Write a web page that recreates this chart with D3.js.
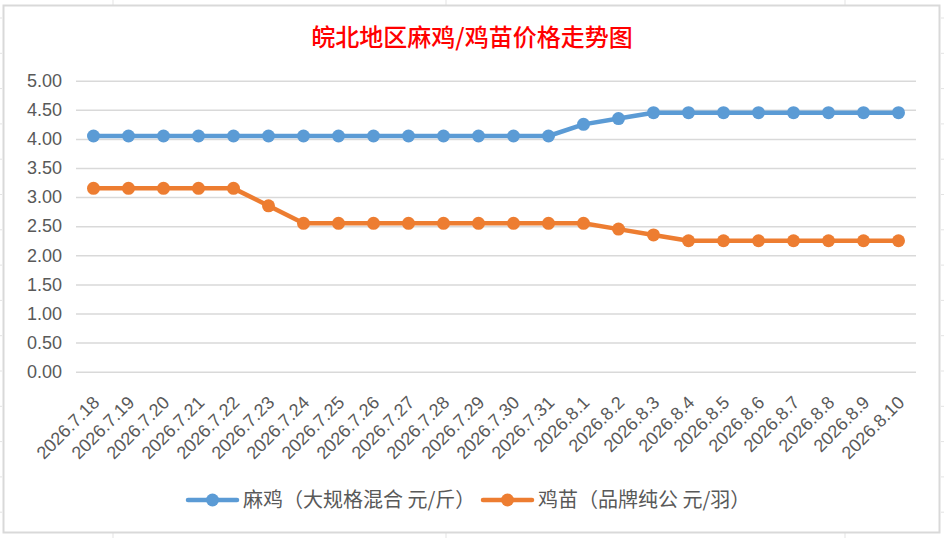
<!DOCTYPE html>
<html>
<head>
<meta charset="utf-8">
<script src="https://cdn.jsdelivr.net/npm/d3@7"></script>
<style>
  html, body { margin: 0; padding: 0; background: #fff; }
  svg { display: block; }
  text { font-family: "Liberation Sans", "Noto Sans CJK SC", sans-serif; }
</style>
</head>
<body>
<div id="chart"></div>
<script>
const categories = [
  '2026.7.18', '2026.7.19', '2026.7.20', '2026.7.21', '2026.7.22', '2026.7.23',
  '2026.7.24', '2026.7.25', '2026.7.26', '2026.7.27', '2026.7.28', '2026.7.29',
  '2026.7.30', '2026.7.31', '2026.8.1', '2026.8.2', '2026.8.3', '2026.8.4',
  '2026.8.5', '2026.8.6', '2026.8.7', '2026.8.8', '2026.8.9', '2026.8.10'
];

// 麻鸡（大规格混合 元/斤）
const majiPrices = [
  4.05, 4.05, 4.05, 4.05, 4.05, 4.05, 4.05, 4.05, 4.05, 4.05, 4.05, 4.05,
  4.05, 4.05, 4.25, 4.35, 4.45, 4.45, 4.45, 4.45, 4.45, 4.45, 4.45, 4.45
];

// 鸡苗（品牌纯公 元/羽）
const jimiaoPrices = [
  3.15, 3.15, 3.15, 3.15, 3.15, 2.85, 2.55, 2.55, 2.55, 2.55, 2.55, 2.55,
  2.55, 2.55, 2.55, 2.45, 2.35, 2.25, 2.25, 2.25, 2.25, 2.25, 2.25, 2.25
];

const yTicks = [0, 0.5, 1, 1.5, 2, 2.5, 3, 3.5, 4, 4.5, 5];

const seriesNames = ['麻鸡（大规格混合 元/斤）', '鸡苗（品牌纯公 元/羽）'];
const seriesColors = ['#5b9bd5', '#ed7d31'];

const width = 944;
const height = 538;
const plot = { left: 76, right: 916, top: 80.7, bottom: 371.7 };

const svg = d3.select('#chart').append('svg')
  .attr('width', width)
  .attr('height', height);

// Excel cell grid peeking out around the chart box
const cellGrid = svg.append('g').attr('stroke', '#e3e3e3').attr('stroke-width', 1);
[113, 446, 845].forEach((gx) => {
  cellGrid.append('line').attr('x1', gx).attr('x2', gx).attr('y1', 0).attr('y2', 5);
  cellGrid.append('line').attr('x1', gx).attr('x2', gx).attr('y1', 533).attr('y2', height);
});
d3.range(18, 533, 35.3).forEach((gy) => {
  cellGrid.append('line').attr('x1', 0).attr('x2', 2).attr('y1', gy).attr('y2', gy);
  cellGrid.append('line').attr('x1', 941).attr('x2', width).attr('y1', gy).attr('y2', gy);
});

// chart box
svg.append('rect')
  .attr('x', 3.5)
  .attr('y', 5.5)
  .attr('width', 936)
  .attr('height', 527)
  .attr('fill', '#fff')
  .attr('stroke', '#d9d9d9')
  .attr('stroke-width', 2);

// title
svg.append('text')
  .attr('x', 472)
  .attr('y', 46)
  .attr('text-anchor', 'middle')
  .attr('fill', '#ff0000')
  .style('font-family', '"Noto Sans CJK SC", sans-serif')
  .style('font-size', '24px')
  .style('font-weight', '500')
  .text('皖北地区麻鸡/鸡苗价格走势图');

const x = d3.scaleBand()
  .domain(categories)
  .range([plot.left, plot.right]);

const y = d3.scaleLinear()
  .domain([0, 5])
  .range([plot.bottom, plot.top]);

const cx = d => x(d) + x.bandwidth() / 2;

// y axis with gridlines
const yAxis = svg.append('g')
  .attr('transform', `translate(${plot.left},0)`)
  .call(d3.axisLeft(y)
    .tickValues(yTicks)
    .tickFormat(d3.format('.2f'))
    .tickSize(-(plot.right - plot.left))
    .tickPadding(14));

yAxis.select('.domain').remove();
yAxis.selectAll('.tick line')
  .attr('stroke', '#d9d9d9')
  .attr('stroke-width', 1.5);
yAxis.selectAll('.tick text')
  .attr('fill', '#595959')
  .style('font-size', '18px');

// x axis labels
const xAxis = svg.append('g')
  .attr('transform', `translate(0,${plot.bottom})`)
  .call(d3.axisBottom(x).tickSize(0));

xAxis.select('.domain').remove();
xAxis.selectAll('.tick text')
  .attr('fill', '#595959')
  .style('font-size', '18px')
  .attr('text-anchor', 'end')
  .attr('dy', null)
  .attr('y', 0)
  .attr('transform', 'translate(7,32) rotate(-45)');

// series
const series = [majiPrices, jimiaoPrices];
const line = d3.line()
  .x((d, i) => cx(categories[i]))
  .y(d => y(d));

series.forEach((values, s) => {
  svg.append('path')
    .datum(values)
    .attr('fill', 'none')
    .attr('stroke', seriesColors[s])
    .attr('stroke-width', 4.5)
    .attr('stroke-linejoin', 'round')
    .attr('stroke-linecap', 'round')
    .attr('d', line);

  svg.append('g')
    .selectAll('circle')
    .data(values)
    .enter()
    .append('circle')
      .attr('cx', (d, i) => cx(categories[i]))
      .attr('cy', d => y(d))
      .attr('r', 6.5)
      .attr('fill', seriesColors[s]);
});

// legend
const legendItems = [
  { x: 188, name: seriesNames[0], color: seriesColors[0] },
  { x: 483, name: seriesNames[1], color: seriesColors[1] }
];
const legendY = 500;

const legend = svg.append('g');
legendItems.forEach((item) => {
  legend.append('line')
    .attr('x1', item.x)
    .attr('x2', item.x + 49)
    .attr('y1', legendY)
    .attr('y2', legendY)
    .attr('stroke', item.color)
    .attr('stroke-width', 4.5)
    .attr('stroke-linecap', 'round');
  legend.append('circle')
    .attr('cx', item.x + 24.5)
    .attr('cy', legendY)
    .attr('r', 6.5)
    .attr('fill', item.color);
  legend.append('text')
    .attr('x', item.x + 55)
    .attr('y', legendY + 7)
    .attr('fill', '#595959')
    .style('font-family', '"Noto Sans CJK SC", sans-serif')
    .style('font-size', '20px')
    .text(item.name);
});
</script>
</body>
</html>
